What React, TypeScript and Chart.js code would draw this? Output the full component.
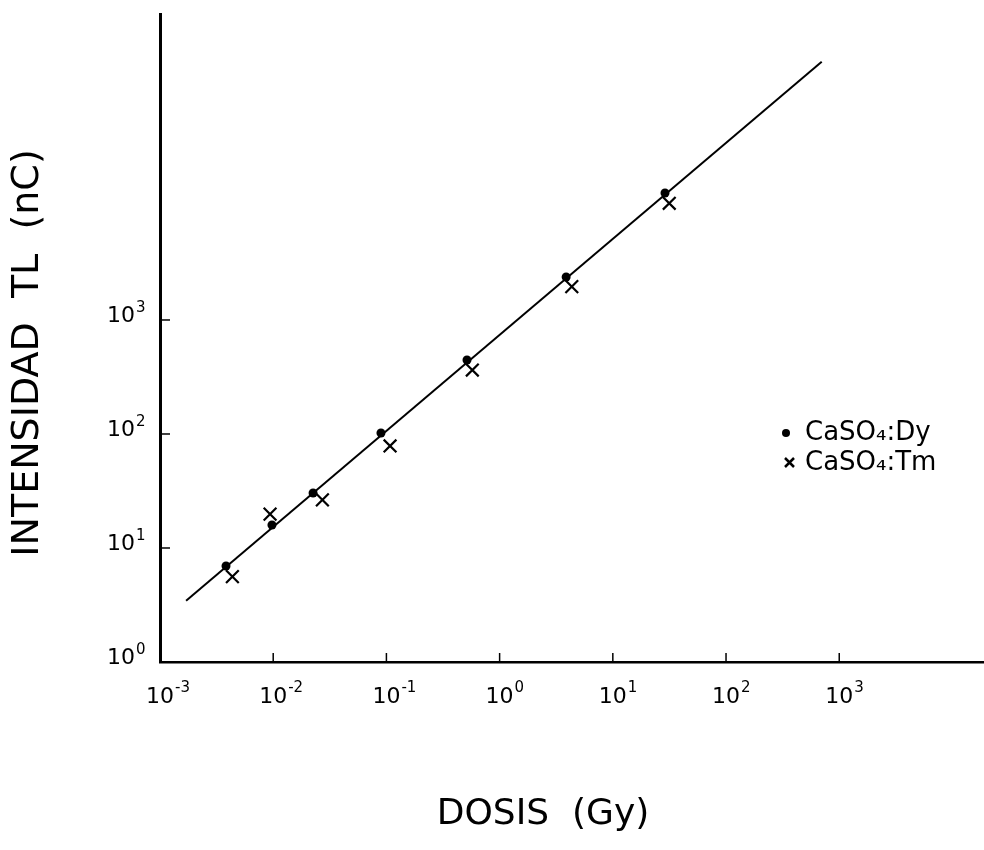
import React, { useEffect, useRef } from "react";
import { Chart, registerables } from "chart.js";
Chart.register(...registerables);

// Data (log-log)
const dyDose = [0.00383, 0.00975, 0.0225, 0.0895, 0.515, 3.87, 28.9];
const dyTL = [6.95, 15.9, 30.4, 102, 446, 2384, 13000];
const tmDose = [0.00436, 0.00938, 0.0272, 0.1077, 0.574, 4.34, 31.5];
const tmTL = [5.6, 19.8, 26.4, 78.5, 364, 1960, 10560];
const fitDose = [0.0017, 700];
const fitTL = [3.45, 184500];
const xTickExponents = [-3, -2, -1, 0, 1, 2, 3];
const yTickExponents = [0, 1, 2, 3];
const seriesLabels = ["CaSO₄:Dy", "CaSO₄:Tm"];
const xTitle = "DOSIS  (Gy)";
const yTitle = "INTENSIDAD  TL  (nC)";

const FONT = "'DejaVu Sans', sans-serif";

const toPoints = (xs: number[], ys: number[]) => xs.map((x, i) => ({ x, y: ys[i] }));

const overlay = {
  id: "overlay",
  afterDraw(chart: any) {
    const ctx = chart.ctx as CanvasRenderingContext2D;
    const xs = chart.scales.x;
    const ys = chart.scales.y;
    const area = chart.chartArea;
    ctx.save();
    ctx.strokeStyle = "#000";
    ctx.fillStyle = "#000";
    ctx.lineWidth = 1.5;
    // inward tick marks
    xTickExponents.forEach((e) => {
      const px = xs.getPixelForValue(Math.pow(10, e));
      ctx.beginPath();
      ctx.moveTo(px, area.bottom);
      ctx.lineTo(px, area.bottom - 9);
      ctx.stroke();
    });
    yTickExponents.forEach((e) => {
      const py = ys.getPixelForValue(Math.pow(10, e));
      ctx.beginPath();
      ctx.moveTo(area.left, py);
      ctx.lineTo(area.left + 10, py);
      ctx.stroke();
    });
    // tick labels: "10" with superscript exponent
    const baseFont = `22px ${FONT}`;
    const expFont = `15px ${FONT}`;
    ctx.textBaseline = "alphabetic";
    xTickExponents.forEach((e) => {
      const px = xs.getPixelForValue(Math.pow(10, e));
      ctx.font = baseFont;
      const w = ctx.measureText("10").width;
      ctx.textAlign = "left";
      ctx.fillText("10", px - w / 2, area.bottom + 41);
      ctx.font = expFont;
      ctx.fillText(e < 0 ? "-" + Math.abs(e) : String(e), px + w / 2 + 1, area.bottom + 30);
    });
    yTickExponents.forEach((e) => {
      const py = ys.getPixelForValue(Math.pow(10, e));
      ctx.font = baseFont;
      ctx.textAlign = "right";
      ctx.fillText("10", area.left - 25, py + 2);
      ctx.font = expFont;
      ctx.textAlign = "left";
      ctx.fillText(String(e), area.left - 24, py - 8);
    });
    // axis titles
    ctx.font = `36px ${FONT}`;
    ctx.textAlign = "center";
    ctx.textBaseline = "middle";
    ctx.fillText(xTitle, 543, 815);
    ctx.save();
    ctx.translate(28, 353);
    ctx.rotate(-Math.PI / 2);
    ctx.font = `38px ${FONT}`;
    ctx.fillText(yTitle, 0, 0);
    ctx.restore();
    // legend
    ctx.font = `26px ${FONT}`;
    ctx.textAlign = "left";
    ctx.textBaseline = "middle";
    ctx.beginPath();
    ctx.arc(786, 433, 4, 0, Math.PI * 2);
    ctx.fill();
    ctx.fillText(seriesLabels[0], 805, 433);
    ctx.lineWidth = 2.5;
    ctx.beginPath();
    ctx.moveTo(785, 458);
    ctx.lineTo(794, 467);
    ctx.moveTo(794, 458);
    ctx.lineTo(785, 467);
    ctx.stroke();
    ctx.fillText(seriesLabels[1], 805, 463);
    ctx.restore();
  },
};

export default function App() {
  const ref = useRef<HTMLCanvasElement | null>(null);
  useEffect(() => {
    if (!ref.current) return;
    const chart = new Chart(ref.current, {
      type: "scatter",
      data: {
        datasets: [
          {
            label: seriesLabels[0],
            data: toPoints(dyDose, dyTL),
            pointStyle: "circle",
            pointRadius: 4.5,
            backgroundColor: "#000",
            borderColor: "#000",
            borderWidth: 0,
          },
          {
            label: seriesLabels[1],
            data: toPoints(tmDose, tmTL),
            pointStyle: "crossRot",
            pointRadius: 9,
            backgroundColor: "#000",
            borderColor: "#000",
            borderWidth: 2.2,
          },
          {
            label: "fit",
            data: toPoints(fitDose, fitTL),
            showLine: true,
            pointRadius: 0,
            borderColor: "#000",
            borderWidth: 2,
          },
        ],
      },
      options: {
        animation: false,
        responsive: false,
        events: [],
        layout: { autoPadding: false, padding: { left: 160, top: 14, right: 0, bottom: 188 } },
        plugins: { legend: { display: false }, tooltip: { enabled: false } },
        scales: {
          x: {
            type: "logarithmic",
            min: 0.001,
            max: 19000,
            bounds: "data",
            grid: { display: false, drawTicks: false },
            ticks: { display: false },
            border: { display: true, color: "#000", width: 2.5 },
          },
          y: {
            type: "logarithmic",
            min: 1,
            max: 483000,
            bounds: "data",
            grid: { display: false, drawTicks: false },
            ticks: { display: false },
            border: { display: true, color: "#000", width: 3 },
          },
        },
      },
      plugins: [overlay],
    });
    return () => chart.destroy();
  }, []);
  return (
    <div style={{ position: "absolute", left: 0, top: 0, width: 984, height: 850, background: "#fff" }}>
      <canvas ref={ref} width={984} height={850} />
    </div>
  );
}
